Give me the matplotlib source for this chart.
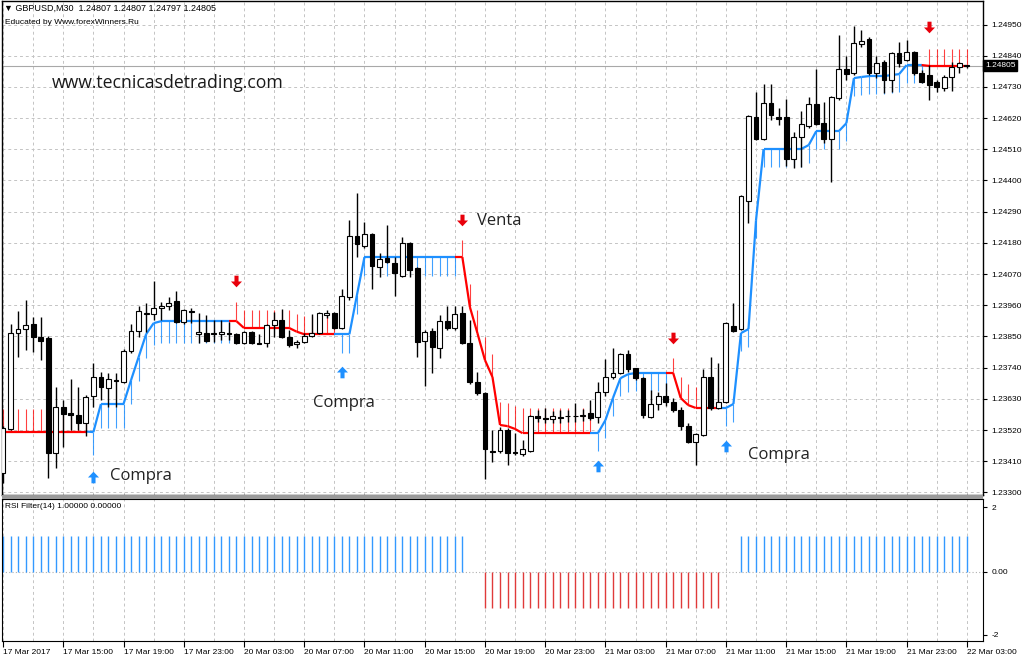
import matplotlib
matplotlib.use("Agg")
import numpy as np
import matplotlib.pyplot as plt
from matplotlib.collections import LineCollection
from matplotlib.path import Path
from matplotlib.patches import Rectangle

# GBPUSD M30 bars, 17 Mar 2017 11:00 -> 22 Mar 2017 03:00
opens = [1.23368, 1.23524, 1.23862, 1.23876, 1.23894, 1.23848, 1.23844, 1.23439, 1.23601, 1.23580,
         1.23573, 1.23545, 1.23640, 1.23707, 1.23668, 1.23696, 1.23689, 1.23799, 1.23869, 1.23931,
         1.23929, 1.23950, 1.23957, 1.23975, 1.23901, 1.23940, 1.23858, 1.23862, 1.23862, 1.23858,
         1.23862, 1.23858, 1.23827, 1.23866, 1.23827, 1.23827, 1.23890, 1.23908, 1.23848, 1.23823,
         1.23830, 1.23851, 1.23862, 1.23925, 1.23933, 1.23880, 1.23989, 1.24204, 1.24169, 1.24211,
         1.24095, 1.24126, 1.24109, 1.24063, 1.24179, 1.24091, 1.23834, 1.23869, 1.23809, 1.23904,
         1.23880, 1.23933, 1.23827, 1.23689, 1.23650, 1.23446, 1.23446, 1.23520, 1.23442, 1.23435,
         1.23446, 1.23569, 1.23562, 1.23559, 1.23566, 1.23568, 1.23569, 1.23571, 1.23580, 1.23566,
         1.23654, 1.23707, 1.23721, 1.23788, 1.23739, 1.23703, 1.23566, 1.23612, 1.23640, 1.23619,
         1.23591, 1.23534, 1.23478, 1.23502, 1.23707, 1.23598, 1.23619, 1.23887, 1.23876, 1.24327,
         1.24624, 1.24546, 1.24673, 1.24624, 1.24624, 1.24476, 1.24553, 1.24592, 1.24669, 1.24602,
         1.24546, 1.24691, 1.24793, 1.24779, 1.24881, 1.24899, 1.24779, 1.24818, 1.24754, 1.24849,
         1.24825, 1.24853, 1.24779, 1.24772, 1.24747, 1.24726, 1.24765, 1.24800, 1.24807]
highs = [1.23534, 1.23894, 1.23940, 1.23978, 1.23918, 1.23918, 1.23851, 1.23672, 1.23626, 1.23700,
         1.23672, 1.23643, 1.23756, 1.23725, 1.23721, 1.23721, 1.23806, 1.23894, 1.23957, 1.23968,
         1.24045, 1.23971, 1.23989, 1.24010, 1.23947, 1.23950, 1.23933, 1.23925, 1.23908, 1.23908,
         1.23901, 1.23862, 1.23869, 1.23869, 1.23858, 1.23894, 1.23936, 1.23947, 1.23873, 1.23837,
         1.23862, 1.23929, 1.23936, 1.23943, 1.23936, 1.24017, 1.24260, 1.24356, 1.24253, 1.24215,
         1.24144, 1.24243, 1.24130, 1.24201, 1.24183, 1.24095, 1.23873, 1.23880, 1.23925, 1.23957,
         1.23957, 1.23957, 1.23908, 1.23725, 1.23654, 1.23520, 1.23531, 1.23527, 1.23509, 1.23485,
         1.23573, 1.23591, 1.23598, 1.23587, 1.23591, 1.23591, 1.23615, 1.23594, 1.23626, 1.23689,
         1.23770, 1.23809, 1.23792, 1.23802, 1.23739, 1.23707, 1.23661, 1.23654, 1.23686, 1.23633,
         1.23601, 1.23545, 1.23509, 1.23735, 1.23777, 1.23756, 1.23901, 1.23968, 1.24349, 1.24631,
         1.24712, 1.24740, 1.24740, 1.24655, 1.24687, 1.24571, 1.24645, 1.24694, 1.24793, 1.24677,
         1.24698, 1.24913, 1.24839, 1.24945, 1.24931, 1.24906, 1.24839, 1.24825, 1.24853, 1.24888,
         1.24895, 1.24857, 1.24789, 1.24807, 1.24754, 1.24772, 1.24818, 1.24818, 1.24807]
lows = [1.23333, 1.23520, 1.23777, 1.23802, 1.23795, 1.23767, 1.23351, 1.23386, 1.23460, 1.23520,
        1.23520, 1.23499, 1.23601, 1.23626, 1.23601, 1.23601, 1.23686, 1.23792, 1.23848, 1.23866,
        1.23908, 1.23908, 1.23943, 1.23897, 1.23894, 1.23897, 1.23827, 1.23830, 1.23830, 1.23837,
        1.23837, 1.23823, 1.23823, 1.23823, 1.23823, 1.23813, 1.23848, 1.23844, 1.23813, 1.23809,
        1.23827, 1.23848, 1.23858, 1.23915, 1.23876, 1.23876, 1.23978, 1.24130, 1.24162, 1.24017,
        1.24059, 1.24109, 1.23992, 1.24059, 1.24059, 1.23777, 1.23675, 1.23721, 1.23774, 1.23873,
        1.23873, 1.23823, 1.23682, 1.23643, 1.23347, 1.23407, 1.23439, 1.23397, 1.23432, 1.23428,
        1.23442, 1.23548, 1.23545, 1.23545, 1.23545, 1.23548, 1.23548, 1.23552, 1.23555, 1.23545,
        1.23640, 1.23700, 1.23717, 1.23725, 1.23696, 1.23562, 1.23562, 1.23591, 1.23605, 1.23583,
        1.23520, 1.23474, 1.23397, 1.23499, 1.23591, 1.23594, 1.23615, 1.23866, 1.23873, 1.24250,
        1.24543, 1.24543, 1.24613, 1.24595, 1.24451, 1.24444, 1.24447, 1.24585, 1.24595, 1.24532,
        1.24394, 1.24684, 1.24754, 1.24772, 1.24870, 1.24772, 1.24761, 1.24708, 1.24712, 1.24800,
        1.24821, 1.24772, 1.24744, 1.24684, 1.24712, 1.24715, 1.24715, 1.24779, 1.24797]
closes = [1.23527, 1.23862, 1.23876, 1.23890, 1.23848, 1.23834, 1.23439, 1.23601, 1.23576, 1.23573,
          1.23545, 1.23636, 1.23707, 1.23672, 1.23700, 1.23693, 1.23799, 1.23869, 1.23940, 1.23934,
          1.23950, 1.23957, 1.23968, 1.23901, 1.23943, 1.23938, 1.23866, 1.23834, 1.23858, 1.23866,
          1.23858, 1.23827, 1.23866, 1.23827, 1.23825, 1.23890, 1.23908, 1.23848, 1.23820, 1.23830,
          1.23851, 1.23862, 1.23933, 1.23933, 1.23880, 1.23992, 1.24204, 1.24176, 1.24211, 1.24098,
          1.24123, 1.24112, 1.24074, 1.24179, 1.24084, 1.23830, 1.23866, 1.23813, 1.23904, 1.23880,
          1.23929, 1.23827, 1.23689, 1.23650, 1.23453, 1.23442, 1.23520, 1.23439, 1.23439, 1.23453,
          1.23569, 1.23562, 1.23559, 1.23569, 1.23564, 1.23569, 1.23568, 1.23573, 1.23562, 1.23654,
          1.23707, 1.23721, 1.23788, 1.23735, 1.23703, 1.23573, 1.23612, 1.23640, 1.23619, 1.23591,
          1.23534, 1.23478, 1.23506, 1.23707, 1.23598, 1.23619, 1.23897, 1.23869, 1.24345, 1.24627,
          1.24546, 1.24673, 1.24631, 1.24617, 1.24476, 1.24553, 1.24599, 1.24669, 1.24599, 1.24546,
          1.24694, 1.24793, 1.24775, 1.24885, 1.24892, 1.24779, 1.24814, 1.24754, 1.24849, 1.24814,
          1.24853, 1.24779, 1.24747, 1.24737, 1.24730, 1.24765, 1.24800, 1.24814, 1.24805]

# trailing stop line of the indicator
stop_line = [1.23515, 1.23515, 1.23515, 1.23515, 1.23515, 1.23515, 1.23515, 1.23515, 1.23515, 1.23515,
             1.23515, 1.23515, 1.23513, 1.23612, 1.23612, 1.23612, 1.23612, 1.23696, 1.23777, 1.23858,
             1.23897, 1.23904, 1.23904, 1.23904, 1.23904, 1.23904, 1.23904, 1.23904, 1.23904, 1.23904,
             1.23904, 1.23904, 1.23880, 1.23880, 1.23880, 1.23880, 1.23880, 1.23880, 1.23880, 1.23867,
             1.23858, 1.23858, 1.23858, 1.23858, 1.23858, 1.23858, 1.23858, 1.23996, 1.24130, 1.24130,
             1.24130, 1.24130, 1.24130, 1.24130, 1.24130, 1.24130, 1.24130, 1.24130, 1.24130, 1.24130,
             1.24130, 1.24130, 1.23954, 1.23862, 1.23767, 1.23707, 1.23538, 1.23534, 1.23524, 1.23509,
             1.23509, 1.23509, 1.23509, 1.23509, 1.23509, 1.23509, 1.23509, 1.23509, 1.23509, 1.23509,
             1.23555, 1.23633, 1.23703, 1.23717, 1.23721, 1.23721, 1.23721, 1.23721, 1.23721, 1.23721,
             1.23633, 1.23608, 1.23598, 1.23598, 1.23598, 1.23598, 1.23598, 1.23612, 1.23862, 1.23876,
             1.24260, 1.24511, 1.24511, 1.24511, 1.24511, 1.24511, 1.24511, 1.24525, 1.24574, 1.24574,
             1.24574, 1.24574, 1.24602, 1.24761, 1.24765, 1.24768, 1.24768, 1.24768, 1.24772, 1.24775,
             1.24807, 1.24807, 1.24807, 1.24804, 1.24804, 1.24804, 1.24804, 1.24804, 1.24804]
trend_runs = [("dn", 12), ("up", 19), ("dn", 14), ("up", 16), ("dn", 18),
              ("up", 10), ("dn", 7), ("up", 27), ("dn", 6)]
band_runs = [(0.00078, 12), (0.00081, 1), (0.00085, 7), (0.00078, 11), (0.00067, 1),
             (0.00063, 13), (0.00065, 16), (0.00060, 1), (0.00080, 7), (0.00088, 10),
             (0.00062, 10), (0.00053, 1), (0.00075, 6), (0.00064, 27), (0.00060, 6)]

buy_bars = [12, 45, 79, 96]
buy_arrow = [1.23354, 1.23725, 1.23393, 1.23464]
sell_bars = [31, 61, 89, 123]
sell_arrow = [1.24045, 1.24260, 1.23844, 1.24941]

# RSI filter state: 1 / 0 / -1
rsi_runs = [(1, 62), (0, 2), (-1, 32), (0, 2), (1, 31)]

time_labels = ["17 Mar 2017", "17 Mar 15:00", "17 Mar 19:00", "17 Mar 23:00", "20 Mar 03:00",
               "20 Mar 07:00", "20 Mar 11:00", "20 Mar 15:00", "20 Mar 19:00", "20 Mar 23:00",
               "21 Mar 03:00", "21 Mar 07:00", "21 Mar 11:00", "21 Mar 15:00", "21 Mar 19:00",
               "21 Mar 23:00", "22 Mar 03:00"]
last_price = 1.24805

# %% prepare
n = len(closes)
x = np.arange(n)
o, h, l, c = map(np.array, (opens, highs, lows, closes))
line = np.array(stop_line)
trend = np.array(sum([[d] * k for d, k in trend_runs], []))
band = np.array(sum([[v] * k for v, k in band_runs], []))
rsi = np.array(sum([[v] * k for v, k in rsi_runs], []))

BLUE = "#1e90ff"
RED = "#ff0000"
GRID = "#c4c4c4"
ui_font = ["Liberation Sans", "DejaVu Sans"]
plt.rcParams["font.family"] = ui_font

fig = plt.figure(figsize=(10.24, 6.62), dpi=100)
ax = fig.add_axes([0.002, 0.2523, 0.958, 0.7462])
ax2 = fig.add_axes([0.002, 0.0317, 0.958, 0.2145])

# %% main price panel
price_ticks = np.round(np.arange(1.2330, 1.24951, 0.0011), 5)
for yv in price_ticks:
    ax.axhline(yv, color=GRID, lw=0.7, ls=(0, (3, 3)), zorder=0)
for xv in range(0, n, 4):
    ax.axvline(xv, color=GRID, lw=0.7, ls=(0, (3, 3)), zorder=0)
    ax2.axvline(xv, color=GRID, lw=0.7, ls=(0, (3, 3)), zorder=0)

ax.axhline(last_price, color="#a8a8a8", lw=0.8, zorder=1)

up = trend == "up"
dn = ~up
ax.vlines(x[up], line[up] - band[up], line[up], color=BLUE, lw=0.8, alpha=0.85, zorder=2)
ax.vlines(x[dn], line[dn], line[dn] + band[dn], color=RED, lw=0.8, alpha=0.75, zorder=2)

segs = [[(i - 1, line[i - 1]), (i, line[i])] for i in range(1, n)]
seg_cols = [BLUE if trend[i] == "up" else RED for i in range(1, n)]
ax.add_collection(LineCollection(segs, colors=seg_cols, linewidths=1.6, zorder=2.5))

ax.vlines(x, l, h, color="black", lw=1, zorder=3)
body_cols = np.where(c >= o, "white", "black")
ax.bar(x, c - o, bottom=o, width=0.64, color=body_cols, edgecolor="black",
       linewidth=0.8, zorder=3.5)

up_arrow = Path([(0, 1), (0.95, 0.0), (0.35, 0.0), (0.35, -1), (-0.35, -1),
                 (-0.35, 0.0), (-0.95, 0.0), (0, 1)])
dn_arrow = Path([(0, -1), (0.95, 0.0), (0.35, 0.0), (0.35, 1), (-0.35, 1),
                 (-0.35, 0.0), (-0.95, 0.0), (0, -1)])
ax.scatter(buy_bars, buy_arrow, marker=up_arrow, s=70, color=BLUE, lw=0, zorder=5)
ax.scatter(sell_bars, sell_arrow, marker=dn_arrow, s=70, color="#e8000b", lw=0, zorder=5)

lab = dict(fontsize=12, family=["Open Sans", "DejaVu Sans"], color="#222222",
           va="center", ha="left", zorder=6)
ax.text(14.2, 1.23358, "Compra", **lab)
ax.text(41.2, 1.23615, "Compra", **lab)
ax.text(62.9, 1.24257, "Venta", **lab)
ax.text(98.9, 1.23432, "Compra", **lab)

ax.set_xlim(-0.13, 130.15)
ax.set_ylim(1.232912, 1.250329)
ax.yaxis.tick_right()
ax.set_yticks(price_ticks)
ax.set_yticklabels([f"{v:.5f}" for v in price_ticks])
ax.tick_params(axis="y", labelsize=6, length=3, pad=3, color="black")
ax.tick_params(axis="x", length=0, labelbottom=False)
for s in ax.spines.values():
    s.set_linewidth(1)

ax.text(1.002, last_price, f"{last_price:.5f}", transform=ax.get_yaxis_transform(),
        ha="left", va="center", fontsize=6, color="white", zorder=7,
        bbox=dict(boxstyle="square,pad=0.2", fc="black", ec="black"))

# %% RSI filter panel
ax2.axhline(0, color="#b0b0b0", lw=0.8, ls=(0, (1, 2)), zorder=0)
ax2.vlines(x[rsi > 0], 0, rsi[rsi > 0], color="#3399ff", lw=1, zorder=2)
ax2.vlines(x[rsi < 0], rsi[rsi < 0], 0, color="#e03a3a", lw=1, zorder=2)
ax2.set_xlim(-0.13, 130.15)
ax2.set_ylim(-1.92, 2.03)
ax2.yaxis.tick_right()
ax2.set_yticks([1.8, 0, -1.75])
ax2.set_yticklabels(["2", "0.00", "-2"])
ax2.tick_params(axis="y", labelsize=6, length=3, pad=3)
ax2.set_xticks(range(0, n, 8))
ax2.set_xticklabels(time_labels)
ax2.tick_params(axis="x", labelsize=6, length=4, pad=2)
for t in ax2.get_xticklabels():
    t.set_ha("left")

# separator band between the two panels
fig.patches.append(Rectangle((0.002, 0.2462), 0.958, 0.0061, transform=fig.transFigure,
                             facecolor="#9a9a9a", edgecolor="none", zorder=10))

# %% header texts
fig.text(4 / 1024, 1 - 8 / 662, "\u25bc GBPUSD,M30  1.24807 1.24807 1.24797 1.24805",
         fontsize=6.5, va="center", family=ui_font)
fig.text(5 / 1024, 1 - 22 / 662, "Educated by Www.forexWinners.Ru", fontsize=6,
         va="center", family=ui_font)
fig.text(52 / 1024, 1 - 83 / 662, "www.tecnicasdetrading.com", fontsize=12.7,
         va="center", color="#1a1a1a", family=["Open Sans", "DejaVu Sans"])
fig.text(5 / 1024, 1 - 507 / 662, "RSI Filter(14) 1.00000 0.00000", fontsize=6,
         va="center", family=ui_font)

fig.savefig("out.png", dpi=100, facecolor="white")
